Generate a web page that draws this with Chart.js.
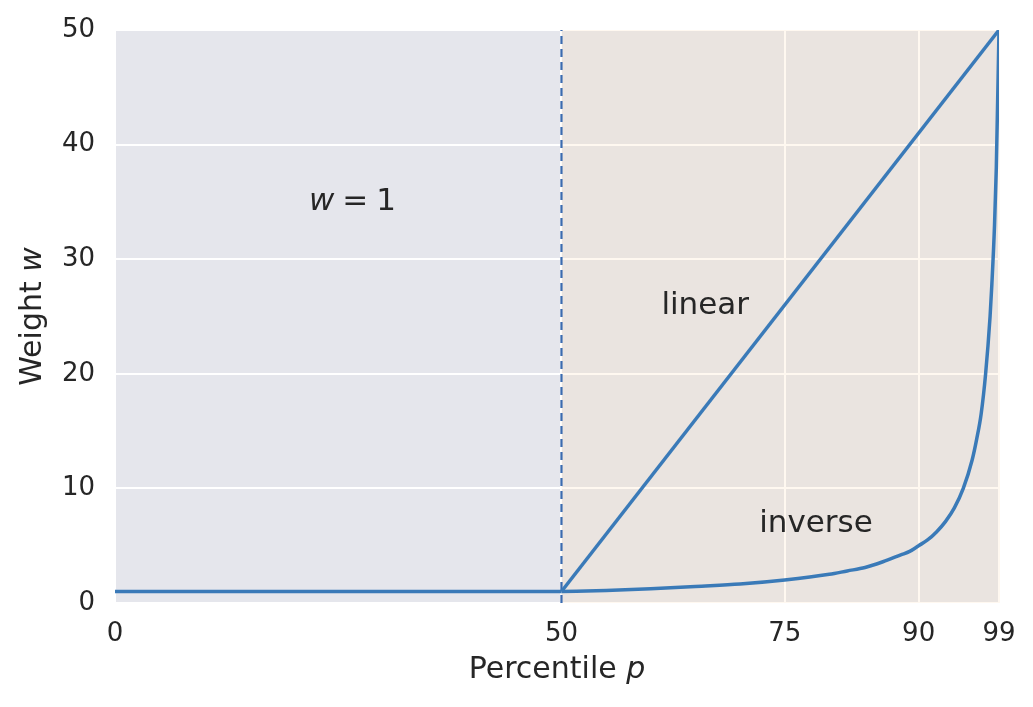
<!DOCTYPE html>
<html>
<head>
<meta charset="utf-8">
<script src="https://cdn.jsdelivr.net/npm/chart.js@4"></script>
<style>
  body { margin: 0; background: #fff; }
  #wrap { width: 1033px; height: 707px; position: relative; }
</style>
</head>
<body>
<div id="wrap"><canvas id="chart"></canvas></div>
<script>
// dane
const xTicks = [0, 50, 75, 90, 99];
const yTicks = [0, 10, 20, 30, 40, 50];

const flatP = [0, 50];
const flatW = [1, 1];

const linearP = [50, 99];
const linearW = [1, 50];

const inverseP = [50, 55, 60, 65, 70, 75, 80, 82, 84, 86, 88, 89, 90, 91, 92, 93, 94, 95, 96, 96.5, 97, 97.5, 98, 98.2, 98.5, 98.7, 99];
const inverseW = [1, 1.1, 1.25, 1.45, 1.65, 2, 2.5, 2.8, 3.1, 3.6, 4.2, 4.5, 5, 5.5, 6.2, 7.1, 8.3, 10, 12.5, 14.3, 16.5, 20, 25, 27.8, 33, 38, 50];

const splitP = [50, 50];
const splitW = [0, 50];

// etykiety w obszarze wykresu: [tekst, x, y]
const notes = [
  ['linear', 66.1, 25.9],
  ['inverse', 78.5, 6.9]
];

const FONT = '"DejaVu Sans", sans-serif';
const TXT = '#262626';
const BLUE = '#3a7ab8';

const pts = (xs, ys) => xs.map((x, i) => ({ x, y: ys[i] }));

// tło: lewa część szaroniebieska, prawa z lekką nakładką
const bgPlugin = {
  id: 'bg',
  beforeDraw(chart) {
    const { ctx, chartArea: a } = chart;
    ctx.save();
    ctx.fillStyle = '#e5e6ec';
    ctx.fillRect(a.left, a.top, a.right - a.left, a.bottom - a.top);
    ctx.restore();
  },
  beforeDatasetsDraw(chart) {
    const { ctx, chartArea: a, scales } = chart;
    const x50 = scales.x.getPixelForValue(50);
    ctx.save();
    ctx.fillStyle = 'rgba(255, 218, 182, 0.2)';
    ctx.fillRect(x50, a.top, a.right - x50 + 1, a.bottom - a.top);
    ctx.restore();
  }
};

// tytuły osi i adnotacje (z kursywą jak w mathtext)
function drawMixed(ctx, parts, cx, cy) {
  let total = 0;
  parts.forEach(p => {
    ctx.font = (p.italic ? 'italic ' : '') + p.size + 'px ' + FONT;
    p.w = ctx.measureText(p.t).width;
    total += p.w + (p.gap || 0);
  });
  let x = cx - total / 2;
  parts.forEach(p => {
    ctx.font = (p.italic ? 'italic ' : '') + p.size + 'px ' + FONT;
    ctx.fillText(p.t, x, cy);
    x += p.w + (p.gap || 0);
  });
}

const textPlugin = {
  id: 'texts',
  afterDraw(chart) {
    const { ctx, scales, chartArea: a } = chart;
    ctx.save();
    ctx.fillStyle = TXT;
    ctx.textBaseline = 'middle';
    ctx.textAlign = 'left';

    notes.forEach(([t, px, wy]) => {
      ctx.font = '31px ' + FONT;
      const w = ctx.measureText(t).width;
      ctx.fillText(t, scales.x.getPixelForValue(px) - w / 2, scales.y.getPixelForValue(wy));
    });

    drawMixed(ctx, [
      { t: 'w', italic: true, size: 31, gap: 8 },
      { t: '=', size: 31, gap: 8 },
      { t: '1', size: 31 }
    ], scales.x.getPixelForValue(26.6), scales.y.getPixelForValue(35));

    // oś X
    drawMixed(ctx, [
      { t: 'Percentile ', size: 30 },
      { t: 'p', italic: true, size: 30 }
    ], (a.left + a.right) / 2, 670);

    // oś Y
    ctx.translate(33, (a.top + a.bottom) / 2);
    ctx.rotate(-Math.PI / 2);
    drawMixed(ctx, [
      { t: 'Weight ', size: 30 },
      { t: 'w', italic: true, size: 30 }
    ], 0, 0);
    ctx.restore();
  }
};

const lineDs = (label, data, extra) => Object.assign({
  label,
  data,
  borderColor: BLUE,
  borderWidth: 3.5,
  pointRadius: 0,
  fill: false
}, extra || {});

new Chart(document.getElementById('chart'), {
  type: 'line',
  data: {
    datasets: [
      lineDs('flat', pts(flatP, flatW)),
      lineDs('linear', pts(linearP, linearW)),
      lineDs('inverse', pts(inverseP, inverseW), { cubicInterpolationMode: 'monotone' }),
      lineDs('p50', pts(splitP, splitW), { borderColor: '#3a6bb0', borderWidth: 2.2, borderDash: [8, 5] })
    ]
  },
  options: {
    responsive: true,
    maintainAspectRatio: false,
    animation: false,
    layout: { padding: { left: 0, right: 34, top: 30, bottom: 0 } },
    plugins: { legend: { display: false }, tooltip: { enabled: false } },
    scales: {
      x: {
        type: 'linear',
        min: 0,
        max: 99,
        afterBuildTicks: s => { s.ticks = xTicks.map(v => ({ value: v })); },
        afterFit: s => { s.height = 104; },
        grid: { color: '#ffffff', lineWidth: 2, drawTicks: false },
        border: { display: false },
        ticks: { color: TXT, font: { family: FONT, size: 26 }, padding: 16, maxRotation: 0, autoSkip: false }
      },
      y: {
        min: 0,
        max: 50,
        afterBuildTicks: s => { s.ticks = yTicks.map(v => ({ value: v })); },
        afterFit: s => { s.width = 115; s.paddingTop = 10; s.paddingBottom = 10; },
        grid: { color: '#ffffff', lineWidth: 2, drawTicks: false },
        border: { display: false },
        ticks: { color: TXT, font: { family: FONT, size: 26 }, padding: 20 }
      }
    }
  },
  plugins: [bgPlugin, textPlugin]
});
</script>
</body>
</html>
